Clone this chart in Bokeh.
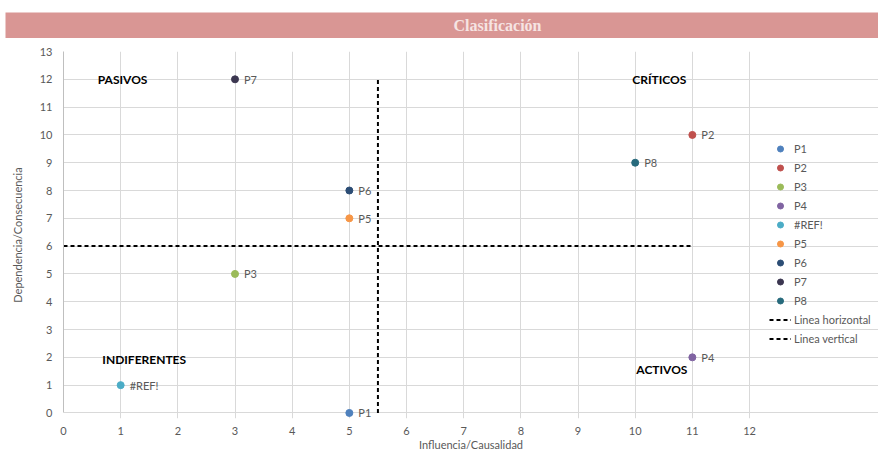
from bokeh.plotting import figure
from bokeh.models import ColumnDataSource, Legend, LegendItem, Range1d, FixedTicker
from bokeh.layouts import column
from bokeh.embed import file_html
from bokeh.resources import INLINE
from bokeh.core.properties import value

# ---- data ----
names = ["P1", "P2", "P3", "P4", "#REF!", "P5", "P6", "P7", "P8"]
influencia = [5, 11, 3, 11, 1, 5, 5, 3, 10]
dependencia = [0, 10, 5, 2, 1, 7, 8, 12, 9]
colors = ["#4f81bd", "#c0504d", "#9bbb59", "#8064a2", "#4bacc6",
          "#f79646", "#2c4d75", "#3b3650", "#276a7c"]

h_line_x = [0, 11]
h_line_y = [6, 6]
v_line_x = [5.5, 5.5]
v_line_y = [0, 12]

quad_labels = ["PASIVOS", "CRÍTICOS", "INDIFERENTES", "ACTIVOS"]
quad_x = [0.6, 9.95, 0.68, 10.02]
quad_y = [12.0, 12.0, 1.93, 1.57]

x_ticks = list(range(0, 13))
y_ticks = list(range(0, 14))

FONT = "Lato"

# ---- title band ----
t = figure(width=878, height=38, output_backend="svg", toolbar_location=None,
           x_range=Range1d(0, 1), y_range=Range1d(0, 1),
           x_axis_location=None, y_axis_location=None,
           min_border_left=5, min_border_right=0, min_border_top=12,
           min_border_bottom=0, frame_align=False)
t.grid.visible = False
t.outline_line_color = None
t.background_fill_color = "#d99694"
t.border_fill_color = "white"
t.text(x=[0.5636], y=[0.5], text=["Clasificación"], text_align="center",
       text_baseline="middle", text_color="#f6e4e3",
       text_font=value("Liberation Serif"), text_font_style="bold",
       text_font_size="16px")

# ---- main chart ----
p = figure(width=878, height=415, output_backend="svg", toolbar_location=None,
           x_range=Range1d(0, 14.256), y_range=Range1d(-0.2, 13),
           min_border_left=63, min_border_right=0, min_border_top=13,
           min_border_bottom=33, frame_align=False)
p.outline_line_color = None
p.background_fill_color = "white"
p.border_fill_color = "white"

p.xaxis.ticker = FixedTicker(ticks=x_ticks)
p.yaxis.ticker = FixedTicker(ticks=y_ticks)
for ax in (p.xaxis[0], p.yaxis[0]):
    ax.major_tick_line_color = None
    ax.minor_tick_line_color = None
    ax.major_label_text_color = "#595959"
    ax.major_label_text_font = FONT
    ax.major_label_text_font_size = "11px"
    ax.axis_label_text_color = "#595959"
    ax.axis_label_text_font = FONT
    ax.axis_label_text_font_size = "11px"
    ax.axis_label_text_font_style = "normal"
p.xaxis.axis_line_color = None
p.xaxis.bounds = (0, 12)
p.yaxis.axis_line_color = "#bfbfbf"
p.yaxis.bounds = (0, 13)
p.xaxis.axis_label = "Influencia/Causalidad"
p.yaxis.axis_label = "Dependencia/Consecuencia"
p.xaxis.major_label_standoff = 2
p.xaxis.axis_label_standoff = 0
p.yaxis.major_label_standoff = 5
p.yaxis.axis_label_standoff = 13
p.grid.grid_line_color = "#d9d9d9"
p.xgrid.bounds = (0, 13)
p.ygrid.bounds = (0, 12)

items = []
for n, xx, yy, c in zip(names, influencia, dependencia, colors):
    src = ColumnDataSource(dict(x=[xx], y=[yy], t=[n]))
    r = p.scatter("x", "y", source=src, size=7, color=c)
    p.text("x", "y", text="t", source=src, x_offset=9, text_baseline="middle",
           text_color="#595959", text_font=value(FONT), text_font_size="11px")
    items.append(LegendItem(label=n, renderers=[r]))

hl = p.line(h_line_x, h_line_y, line_color="black", line_width=2, line_dash="4 3")
vl = p.line(v_line_x, v_line_y, line_color="black", line_width=2, line_dash="4 3")
items.append(LegendItem(label="Linea horizontal", renderers=[hl]))
items.append(LegendItem(label="Linea vertical", renderers=[vl]))

p.text(quad_x, quad_y, text=quad_labels, text_baseline="middle",
       text_color="black", text_font=value(FONT), text_font_style="bold",
       text_font_size="12px")

legend = Legend(items=items, location=(706, 72), border_line_color=None,
                background_fill_alpha=0, label_text_font=FONT,
                label_text_font_size="11px", label_text_color="#595959",
                glyph_width=22, glyph_height=15, label_height=15, spacing=4,
                label_standoff=3, padding=2, margin=0)
p.add_layout(legend)

layout = column(t, p, spacing=0)
open("out.html", "w").write(file_html(layout, INLINE))
